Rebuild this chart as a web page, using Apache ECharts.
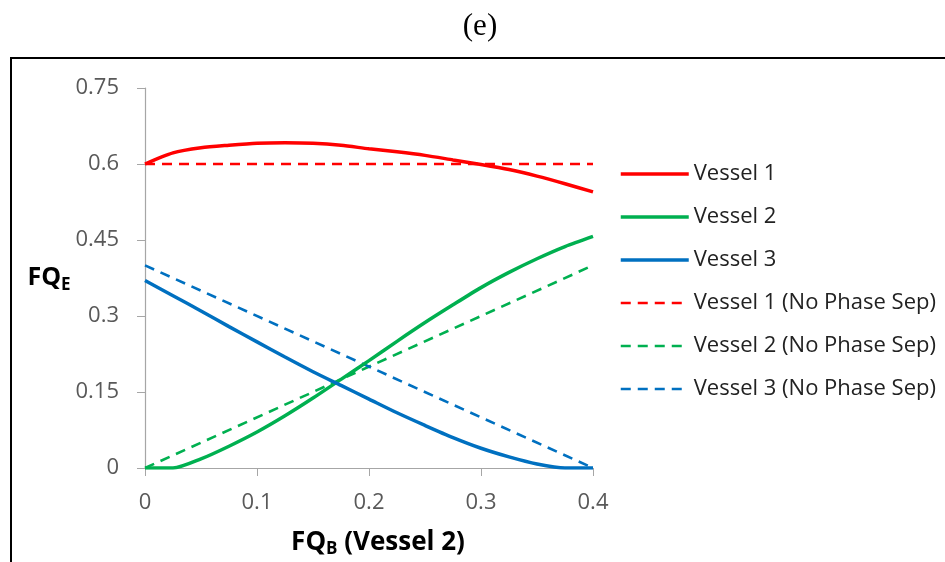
<!DOCTYPE html>
<html>
<head>
<meta charset="utf-8">
<script src="https://cdn.jsdelivr.net/npm/echarts@6/dist/echarts.min.js"></script>
<style>html,body{margin:0;padding:0;background:#fff;}#c{width:945px;height:562px;}</style>
</head>
<body>
<div id="c"></div>
<script>
const xValues = [0, 0.025, 0.05, 0.075, 0.1, 0.125, 0.15, 0.175, 0.2, 0.225, 0.25, 0.275, 0.3, 0.325, 0.35, 0.375, 0.4];
const vessel1 = [0.600, 0.622, 0.632, 0.637, 0.641, 0.642, 0.641, 0.637, 0.630, 0.624, 0.617, 0.608, 0.599, 0.589, 0.576, 0.561, 0.545];
const vessel2 = [0, 0, 0.018, 0.043, 0.071, 0.103, 0.138, 0.175, 0.212, 0.250, 0.287, 0.322, 0.356, 0.386, 0.413, 0.437, 0.457];
const vessel3 = [0.370, 0.340, 0.310, 0.279, 0.249, 0.219, 0.190, 0.163, 0.136, 0.109, 0.084, 0.060, 0.039, 0.022, 0.008, 0, 0];
const npX = [0, 0.4];
const vessel1NP = [0.6, 0.6];
const vessel2NP = [0, 0.4];
const vessel3NP = [0.4, 0];
const seriesNames = ['Vessel 1', 'Vessel 2', 'Vessel 3', 'Vessel 1 (No Phase Sep)', 'Vessel 2 (No Phase Sep)', 'Vessel 3 (No Phase Sep)'];
const yTicks = [0, 0.15, 0.3, 0.45, 0.6, 0.75];
const xTicks = [0, 0.1, 0.2, 0.3, 0.4];

const RED = '#FF0000', GREEN = '#00B050', BLUE = '#0070C0';
const FONT = 'Open Sans';
const SOLID_W = 3.5, DASH_W = 2.6;

function pairs(xs, ys) { return xs.map((x, i) => [x, ys[i]]); }
function solid(name, ys, color) {
  return { name, type: 'line', data: pairs(xValues, ys), symbol: 'none', smooth: 0.25,
    lineStyle: { color, width: SOLID_W }, itemStyle: { color }, z: 3 };
}
function dashed(name, ys, color) {
  return { name, type: 'line', data: pairs(npX, ys), symbol: 'none',
    lineStyle: { color, width: DASH_W, type: [10, 7] }, itemStyle: { color }, z: 2 };
}

const chart = echarts.init(document.getElementById('c'), null, { renderer: 'canvas' });
chart.setOption({
  animation: false,
  backgroundColor: '#fff',
  title: { text: '(e)', left: 475, top: 6, textAlign: 'center',
    textStyle: { fontFamily: 'Liberation Serif', fontWeight: 'normal', fontSize: 31, color: '#000' } },
  graphic: [{ type: 'rect', shape: { x: 11, y: 58, width: 1000, height: 600 },
    style: { fill: 'none', stroke: '#000', lineWidth: 2 }, silent: true }],
  grid: { left: 145, right: 352, top: 88, bottom: 94, containLabel: false, outerBoundsMode: 'none' },
  xAxis: {
    type: 'value', min: 0, max: 0.4, interval: 0.1,
    name: '{b|FQ}{s|B}{b| (Vessel 2)}', nameLocation: 'middle', nameGap: 59,
    nameTextStyle: { padding: [0, 0, 0, 18], rich: {
      b: { fontFamily: FONT, fontWeight: 'bold', fontSize: 26, color: '#000' },
      s: { fontFamily: FONT, fontWeight: 'bold', fontSize: 17, color: '#000', verticalAlign: 'bottom', padding: [14, 0, 0, 0] } } },
    axisLine: { show: true, lineStyle: { color: '#A6A6A6', width: 1.2 } },
    axisTick: { show: true, length: 8, lineStyle: { color: '#A6A6A6' } },
    splitLine: { show: false },
    axisLabel: { margin: 24, fontFamily: FONT, fontSize: 22, color: '#595959',
      formatter: v => { const t = xTicks.find(k => Math.abs(k - v) < 1e-9); return t === undefined ? '' : String(t); } }
  },
  yAxis: {
    type: 'value', min: 0, max: 0.75, interval: 0.15,
    name: '{b|FQ}{s|E}', nameLocation: 'middle', nameGap: 70, nameRotate: 0,
    nameTextStyle: { rich: {
      b: { fontFamily: FONT, fontWeight: 'bold', fontSize: 25, color: '#000' },
      s: { fontFamily: FONT, fontWeight: 'bold', fontSize: 17, color: '#000', verticalAlign: 'bottom', padding: [14, 0, 0, 0] } } },
    axisLine: { show: true, lineStyle: { color: '#A6A6A6', width: 1.2 } },
    axisTick: { show: true, length: 8, lineStyle: { color: '#A6A6A6' } },
    splitLine: { show: false },
    axisLabel: { margin: 26, fontFamily: FONT, fontSize: 22, color: '#595959',
      formatter: v => { const t = yTicks.find(k => Math.abs(k - v) < 1e-9); return t === undefined ? '' : String(t); } }
  },
  legend: {
    orient: 'vertical', left: 614, top: 154, itemWidth: 68, itemHeight: 2, itemGap: 13,
    data: seriesNames.map((n, i) => ({ name: n, lineStyle: { width: i < 3 ? SOLID_W : DASH_W } })),
    itemStyle: { opacity: 0 },
    textStyle: { fontFamily: FONT, fontSize: 22, color: '#222', lineHeight: 30 }
  },
  series: [
    solid(seriesNames[0], vessel1, RED),
    solid(seriesNames[1], vessel2, GREEN),
    solid(seriesNames[2], vessel3, BLUE),
    dashed(seriesNames[3], vessel1NP, RED),
    dashed(seriesNames[4], vessel2NP, GREEN),
    dashed(seriesNames[5], vessel3NP, BLUE)
  ]
});
</script>
</body>
</html>
